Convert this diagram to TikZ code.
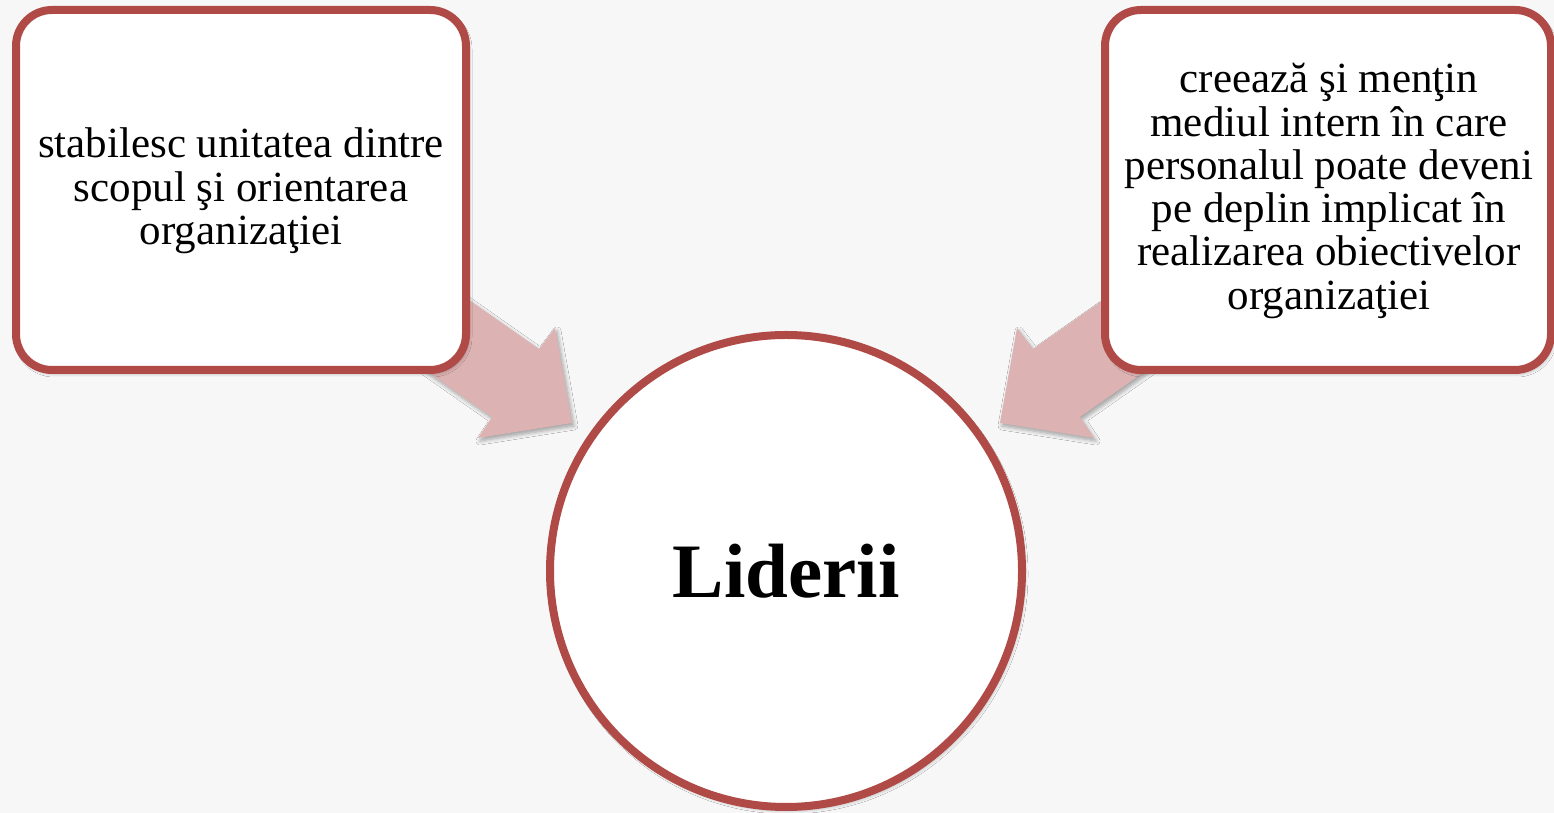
\documentclass[tikz,border=0pt]{standalone}
\usepackage{fontspec}
\setmainfont{Liberation Serif}
\usetikzlibrary{shadows.blur}

\definecolor{rimred}{RGB}{176,74,70}
\definecolor{arrowpink}{RGB}{220,178,178}
\definecolor{paper}{RGB}{247,247,247}

\tikzset{
  softshadow/.style={blur shadow={shadow xshift=2pt, shadow yshift=-3pt,
      shadow blur radius=4pt, shadow blur steps=6, shadow opacity=35}},
  infobox/.style={draw=rimred, line width=8pt, fill=white, rounded corners=36pt,
      minimum width=450pt, minimum height=360pt, inner sep=0pt, softshadow},
  hubcircle/.style={circle, draw=rimred, line width=8pt, fill=white,
      minimum size=472pt, inner sep=0pt, softshadow,
      font=\fontsize{77}{80}\selectfont\bfseries},
  boxtext/.style={align=center, inner sep=0pt,
      font=\fontsize{43}{43.3}\selectfont},
  blockarrow/.style={fill=arrowpink, draw=none, softshadow}
}

\begin{document}
\begin{tikzpicture}[x=1pt,y=1pt]
  % page background
  \fill[paper] (0,0) rectangle (1554,813);
  \useasboundingbox (0,0) rectangle (1554,813);

  % block arrows pointing at the centre circle (drawn first, boxes cover their tails)
  \fill[blockarrow] (372,581) -- (539,464) -- (555,485) -- (572,390)
        -- (478,375) -- (492,396) -- (325,513) -- cycle;
  \fill[blockarrow] (1200,581) -- (1033,464) -- (1017,485) -- (1000,390)
        -- (1094,375) -- (1080,396) -- (1247,513) -- cycle;

  % the two statement boxes
  \node[infobox] (leftbox) at (241,623) {};
  \node[infobox, minimum width=446pt] (rightbox) at (1328,623) {};

  \node[boxtext] (lefttext) at (241,622)
    {stabilesc unitatea dintre\\scopul şi orientarea\\organizaţiei};
  \node[boxtext] (righttext) at (1329,622)
    {creează şi menţin\\mediul intern în care\\personalul poate deveni\\pe deplin implicat în\\realizarea obiectivelor\\organizaţiei};

  % central circle
  \node[hubcircle] (leaders) at (786,242) {Liderii};
\end{tikzpicture}
\end{document}
